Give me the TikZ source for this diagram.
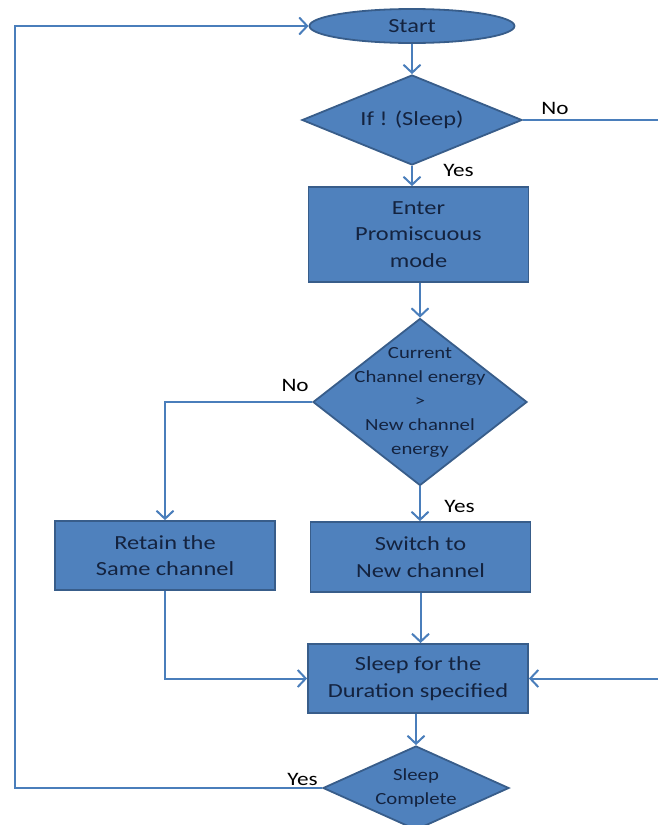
\documentclass[tikz,border=0pt]{standalone}
\usepackage{fontspec}
\setmainfont{Carlito}[FakeStretch=1.22]
\usetikzlibrary{shapes}
\usetikzlibrary{shapes.geometric}
\usetikzlibrary{arrows.meta}

\definecolor{boxfill}{HTML}{4F81BD}
\definecolor{boxedge}{HTML}{385D8A}
\definecolor{flowline}{HTML}{4A7EBB}
\definecolor{boxtext}{HTML}{14233F}

\tikzset{
  block/.style={draw=boxedge, fill=boxfill, line width=0.9pt, rectangle,
    minimum width=110pt, text=boxtext, align=center,
    font=\fontsize{10}{13.2}\selectfont},
  decision/.style={draw=boxedge, fill=boxfill, line width=0.9pt, diamond,
    inner sep=0pt, text=boxtext, align=center},
  terminal/.style={draw=boxedge, fill=boxfill, line width=0.9pt, ellipse,
    inner sep=0pt, text=boxtext, font=\fontsize{10}{12}\selectfont},
  flow/.style={draw=flowline, line width=1pt,
    -{Straight Barb[length=4pt,width=8.5pt]}},
  lbl/.style={inner sep=1pt, text=black, font=\fontsize{9.5}{11}\selectfont}
}

\begin{document}
\begin{tikzpicture}[x=0.5pt, y=-0.5pt]
\useasboundingbox (0,0) rectangle (658,825);
\clip (0,0) rectangle (658,825);

\node[terminal, minimum width=102.5pt, minimum height=17pt] (start) at (412,26) {Start};
\node[decision, minimum width=110pt, minimum height=45pt, shape aspect=2.4,
  font=\fontsize{10}{12}\selectfont] (dec1) at (412,120) {If ! (Sleep)};
\node[block, minimum height=47.5pt] (enter) at (418.5,234.5)
  {Enter\\ Promiscuous\\ mode};
\node[decision, minimum width=107pt, minimum height=83.5pt, shape aspect=1.28,
  inner sep=-9pt, font=\fontsize{8.5}{12}\selectfont] (dec2) at (420,402)
  {Current\\ Channel energy\\ >\\ New channel\\ energy};
\node[block, minimum height=34.5pt] (retain) at (165,555.5)
  {Retain the\\ Same channel};
\node[block, minimum height=35pt] (switch) at (420.5,557)
  {Switch to\\ New channel};
\node[block, minimum height=34.5pt] (sleep) at (418,678.5)
  {Sleep for the\\ Duration specified};
\node[decision, minimum width=93pt, minimum height=42pt, shape aspect=2.2,
  font=\fontsize{8.5}{11.7}\selectfont] (dec3) at (416,788)
  {Sleep\\ Complete};

% loop ends
\coordinate (offL) at (15,0);
\coordinate (offR) at (664,0);

% labels
\node[lbl, anchor=south west] (no1) at ([xshift=8pt, yshift=1.5pt]dec1.east) {No};
\node[lbl, anchor=west] (yes1) at ([xshift=14.5pt, yshift=-2.5pt]dec1.south) {Yes};
\node[lbl, anchor=east] (no2) at ([xshift=-0.5pt, yshift=8.5pt]dec2.west) {No};
\node[lbl, anchor=west] (yes2) at ([xshift=11pt, yshift=-10pt]dec2.south) {Yes};
\node[lbl, anchor=east] (yes3) at ([xshift=-1pt, yshift=4.5pt]dec3.west) {Yes};

% connectors
\draw[flow] (start) -- (dec1);
\draw[flow] (dec1.south) -- (dec1.south |- enter.north);
\draw[flow] (dec2.north |- enter.south) -- (dec2.north);
\draw[flow] (dec2.south) -- (dec2.south |- switch.north);
\draw[flow] (dec2.west) -| (retain.north);
\draw[flow] (switch.south) -- (switch.south |- sleep.north);
\draw[flow] (retain.south) |- (sleep.west);
\draw[flow] (dec3.north |- sleep.south) -- (dec3.north);
\draw[flow] (dec3.west) -- (offL |- dec3.west) |- (start.west);
\draw[flow] (dec1.east) -- (offR |- dec1.east) |- (sleep.east);
\end{tikzpicture}
\end{document}
